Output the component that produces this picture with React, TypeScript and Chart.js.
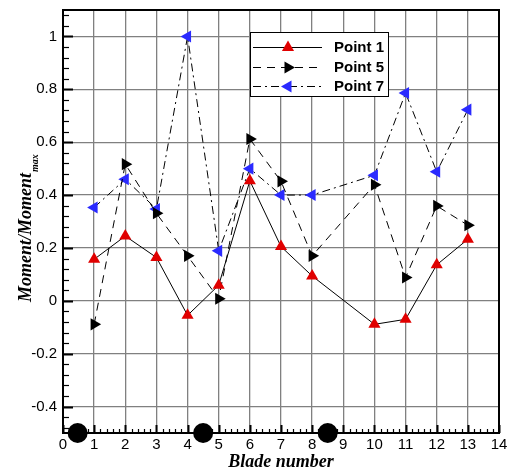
import React, { useEffect, useRef } from 'react';
import { Chart, registerables } from 'chart.js';

Chart.register(...registerables);

const blades = [1, 2, 3, 4, 5, 6, 7, 8, 10, 11, 12, 13];
const point1 = [0.157, 0.245, 0.164, -0.055, 0.059, 0.454, 0.205, 0.094, -0.089, -0.07, 0.136, 0.233];
const point5 = [-0.089, 0.517, 0.331, 0.17, 0.008, 0.612, 0.452, 0.17, 0.439, 0.088, 0.359, 0.286];
const point7 = [0.353, 0.46, 0.347, 1.0, 0.189, 0.5, 0.4, 0.4, 0.475, 0.786, 0.488, 0.723];
const markerX = [0.47, 4.5, 8.5];
const markerY = [-0.5, -0.5, -0.5];
const seriesNames = ['Point 1', 'Point 5', 'Point 7'];
const xTicks = [0, 1, 2, 3, 4, 5, 6, 7, 8, 9, 10, 11, 12, 13, 14];
const yTicks = [-0.4, -0.2, 0, 0.2, 0.4, 0.6, 0.8, 1];
const xTitle = 'Blade number';
const yTitleMain = 'Moment/Moment';
const yTitleSub = 'max';

const RED = '#e00000';
const BLUE = '#2a2aff';
const GRID = '#808080';

const seriesStyle = [
  { color: RED, dash: [] as number[], rot: 0 },
  { color: '#000000', dash: [8, 6], rot: 90 },
  { color: BLUE, dash: [8, 4, 2, 4], rot: -90 },
];

function toPts(xs: number[], ys: number[]) {
  return xs.map((x, i) => ({ x, y: ys[i] }));
}

const framePlugin = {
  id: 'frameTicks',
  beforeDatasetsDraw(chart: any) {
    const { ctx, chartArea, scales } = chart;
    const { left, right, top, bottom } = chartArea;
    const x = scales.x;
    const y = scales.y;
    ctx.save();
    ctx.strokeStyle = '#000';
    for (let k = -12; k <= 27; k++) {
      const v = k * 0.04;
      const py = Math.round(y.getPixelForValue(v)) + 0.5;
      const major = k % 5 === 0;
      const len = major ? 10 : 6;
      ctx.lineWidth = major ? 2 : 1.2;
      ctx.beginPath();
      ctx.moveTo(left, py);
      ctx.lineTo(left + len, py);
      ctx.stroke();
    }
    for (let k = 0; k <= 70; k++) {
      const v = k * 0.2;
      const px = Math.round(x.getPixelForValue(v)) + 0.5;
      const major = k % 5 === 0;
      const len = major ? 8 : 4;
      ctx.lineWidth = major ? 2 : 1.2;
      ctx.beginPath();
      ctx.moveTo(px, bottom);
      ctx.lineTo(px, bottom - len);
      ctx.stroke();
    }
    ctx.lineWidth = 2;
    ctx.strokeRect(left, top, right - left, bottom - top);
    ctx.restore();
  },
  afterDraw(chart: any) {
    const { ctx, chartArea } = chart;
    const { left, right } = chartArea;
    ctx.save();
    ctx.fillStyle = '#000';
    ctx.font = 'italic bold 18px "Liberation Serif"';
    ctx.textAlign = 'center';
    ctx.textBaseline = 'alphabetic';
    ctx.fillText(xTitle, (left + right) / 2, 467);
    ctx.translate(31, 302);
    ctx.rotate(-Math.PI / 2);
    ctx.textAlign = 'left';
    ctx.font = 'italic bold 18px "Liberation Serif"';
    ctx.fillText(yTitleMain, 0, 0);
    const w = ctx.measureText(yTitleMain).width;
    ctx.font = 'italic bold 10px "Liberation Serif"';
    ctx.fillText(yTitleSub, w + 1, 7);
    ctx.restore();

    ctx.save();
    const bx = 250, by = 32, bw = 138, bh = 64;
    ctx.fillStyle = '#fff';
    ctx.fillRect(bx, by, bw, bh);
    ctx.strokeStyle = '#000';
    ctx.lineWidth = 1;
    ctx.strokeRect(bx + 0.5, by + 0.5, bw, bh);
    const rows = [47, 67, 86];
    rows.forEach((ry, i) => {
      const st = seriesStyle[i];
      ctx.strokeStyle = '#000';
      ctx.lineWidth = 1;
      ctx.setLineDash(st.dash);
      ctx.beginPath();
      ctx.moveTo(253, ry + 0.5);
      ctx.lineTo(322, ry + 0.5);
      ctx.stroke();
      ctx.setLineDash([]);
      const r = 7;
      let rad = (st.rot * Math.PI) / 180;
      const cx = 288, cy = ry + 0.5;
      ctx.fillStyle = st.color;
      ctx.beginPath();
      for (let j = 0; j < 3; j++) {
        const px = cx + Math.sin(rad) * r;
        const py = cy - Math.cos(rad) * r;
        if (j === 0) ctx.moveTo(px, py); else ctx.lineTo(px, py);
        rad += (2 * Math.PI) / 3;
      }
      ctx.closePath();
      ctx.fill();
      ctx.fillStyle = '#000';
      ctx.font = 'bold 15px "Liberation Sans"';
      ctx.textAlign = 'left';
      ctx.textBaseline = 'middle';
      ctx.fillText(seriesNames[i], 334, ry + 1);
    });
    ctx.restore();
  },
};

export default function App() {
  const ref = useRef<HTMLCanvasElement | null>(null);
  useEffect(() => {
    if (!ref.current) return;
    const series = [point1, point5, point7];
    const datasets: any[] = series.map((vals, i) => ({
      label: seriesNames[i],
      data: toPts(blades, vals),
      borderColor: '#000',
      borderWidth: 1,
      borderDash: seriesStyle[i].dash,
      backgroundColor: seriesStyle[i].color,
      pointBackgroundColor: seriesStyle[i].color,
      pointBorderColor: seriesStyle[i].color,
      pointBorderWidth: 0,
      pointStyle: 'triangle',
      pointRotation: seriesStyle[i].rot,
      pointRadius: 7,
      showLine: true,
      tension: 0,
      fill: false,
    }));
    datasets.push({
      label: 'blades',
      data: toPts(markerX, markerY),
      showLine: false,
      pointStyle: 'circle',
      pointRadius: 10,
      pointBackgroundColor: '#000',
      pointBorderColor: '#000',
      pointBorderWidth: 0,
      clip: false,
    });
    const chart = new Chart(ref.current, {
      type: 'scatter',
      data: { datasets },
      options: {
        animation: false,
        responsive: false,
        devicePixelRatio: 1,
        layout: { padding: { top: 10, right: 11, left: 0, bottom: 0 } },
        plugins: { legend: { display: false }, tooltip: { enabled: false } },
        scales: {
          x: {
            type: 'linear',
            min: 0,
            max: 14,
            afterBuildTicks: (s: any) => { s.ticks = xTicks.map((v) => ({ value: v })); },
            afterFit: (s: any) => { s.height = 37; s.paddingLeft = 0; s.paddingRight = 0; },
            ticks: {
              color: '#000',
              font: { family: '"Liberation Sans"', size: 15 },
              padding: 3,
              maxRotation: 0,
              autoSkip: false,
              callback: (v: any) => String(v),
            },
            grid: { color: GRID, lineWidth: 1.3, drawTicks: false },
            border: { display: false },
          },
          y: {
            type: 'linear',
            min: -0.5,
            max: 1.1,
            afterBuildTicks: (s: any) => { s.ticks = yTicks.map((v) => ({ value: v })); },
            afterFit: (s: any) => { s.width = 63; s.paddingTop = 0; s.paddingBottom = 0; },
            ticks: {
              color: '#000',
              font: { family: '"Liberation Sans"', size: 15 },
              padding: 6,
              autoSkip: false,
              callback: (v: any) => String(Math.round(Number(v) * 10) / 10),
            },
            grid: { color: GRID, lineWidth: 1.3, drawTicks: false },
            border: { display: false },
          },
        },
      },
      plugins: [framePlugin],
    });
    return () => chart.destroy();
  }, []);
  return (
    <div style={{ position: 'fixed', left: 0, top: 0, width: 510, height: 470, background: '#fff' }}>
      <canvas ref={ref} width={510} height={470} style={{ width: 510, height: 470 }} />
    </div>
  );
}
